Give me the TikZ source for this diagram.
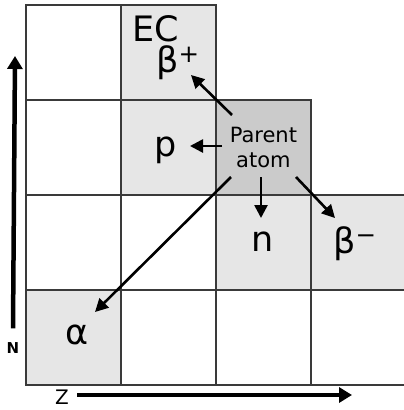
\documentclass[tikz,border=0pt]{standalone}
\usepackage{fontspec}
\setmainfont{DejaVu Sans}
\usetikzlibrary{arrows.meta}
\definecolor{cellgray}{HTML}{E6E6E6}
\definecolor{parentgray}{HTML}{CBCBCB}
\definecolor{gridline}{HTML}{3A3A3A}

\begin{document}
\begin{tikzpicture}[x=1pt,y=-1pt,
  cell/.style={draw=gridline,line width=1.8pt,minimum size=95pt,inner sep=0pt,anchor=north west},
  big/.style={font=\fontsize{35}{35}\selectfont,inner sep=0pt,anchor=base},
  decay/.style={-{Triangle[length=13pt,width=13pt]},line width=2.6pt},
  axis/.style={-{Triangle[length=13pt,width=15pt]},line width=4.5pt}]

\useasboundingbox (0,0) rectangle (404,410);

% chart of nuclides
\foreach \c/\r/\f in {0/0/white,0/1/white,0/2/white,0/3/cellgray,
                      1/0/cellgray,1/1/cellgray,1/2/white,1/3/white,
                      2/2/cellgray,2/3/white,3/2/cellgray,3/3/white}{
\node[cell,fill=\f] (c\c\r) at ({25+95*\c},{4+95*\r}) {};
}
\node[cell,fill=parentgray,align=center,font=\fontsize{21}{25}\selectfont] (parent) at (215,99) {Parent\\atom};

\node[big] (ec) at (156,41) {EC};
\node[big] (bplus) at (178,72) {β\textsuperscript{+}};
\node[big] (p) at (166,156) {p};
\node[big] (n) at (263,251) {n};
\node[big] (bminus) at (355,253) {β\textsuperscript{−}};
\node[big] (alpha) at (77,344) {α};

\coordinate (tbplus) at (232,115);
\coordinate (hbplus) at (191,75);
\coordinate (tp) at (222,146);
\coordinate (hp) at (190,146);
\coordinate (tn) at (261,177);
\coordinate (hn) at (261,218);
\coordinate (tbminus) at (296,177);
\coordinate (hbminus) at (335,218);
\coordinate (talpha) at (231,177);
\coordinate (halpha) at (95,312);

\draw[decay] (tbplus) -- (hbplus);
\draw[decay] (tp) -- (hp);
\draw[decay] (tn) -- (hn);
\draw[decay] (tbminus) -- (hbminus);
\draw[decay] (talpha) -- (halpha);

% axes
\node[font=\fontsize{15}{15}\selectfont\bfseries,inner sep=0pt] (nlab) at (13,348) {N};
\coordinate (nend) at (15,56);
\draw[axis] (nlab.north)++(0,-14) coordinate (nstart) -- (nend);
\node[font=\fontsize{20}{20}\selectfont,inner sep=0pt] (zlab) at (62,397) {Z};
\coordinate (zend) at (352,395);
\draw[axis,line width=3.5pt] (zlab.east)++(8,-2) coordinate (zstart) -- (zend);

\end{tikzpicture}
\end{document}
